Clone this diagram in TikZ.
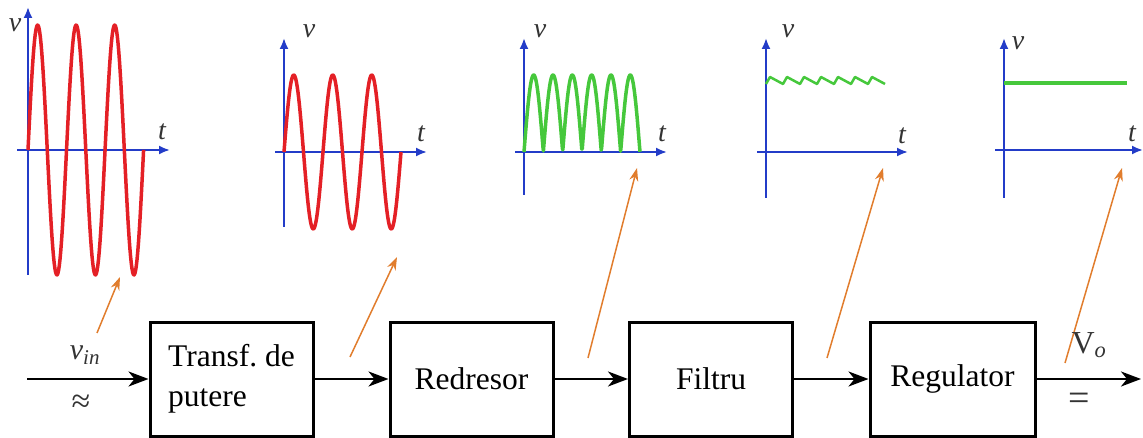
\documentclass[tikz,border=0pt]{standalone}
\usepackage{fontspec}
\setmainfont{Liberation Serif}
\usetikzlibrary{arrows.meta}
\usetikzlibrary{positioning}
\definecolor{sigred}{RGB}{228,32,38}
\definecolor{sigreen}{RGB}{70,200,60}
\definecolor{axisblue}{RGB}{35,60,200}
\definecolor{arrorange}{RGB}{225,125,45}

\begin{document}
\begin{tikzpicture}[x=1pt,y=-1pt,
  block/.style={draw, line width=3pt, minimum width=163pt, minimum height=114pt, align=left, font=\fontsize{31.5}{40}\selectfont},
  flow/.style={line width=2.5pt, -{Stealth[length=20pt,width=15pt,inset=6pt]}},
  axis/.style={axisblue, line width=2pt, -{Latex[length=11pt,width=9pt]}},
  pointer/.style={arrorange, line width=1.5pt, -{Stealth[length=13pt,width=9pt]}},
  wave/.style={line width=3.5pt, line join=round},
  lbl/.style={text=black!80, font=\fontsize{28}{28}\selectfont\itshape}]
\useasboundingbox (0,0) rectangle (1143,438);

\draw[axis] (17,150) -- (170,150);
\draw[axis] (28,275) -- (28,7);
\draw[axis] (275,152) -- (427,152);
\draw[axis] (284,227) -- (284,38);
\draw[axis] (515,152) -- (667,152);
\draw[axis] (524,195) -- (524,38);
\draw[axis] (757,152) -- (908,152);
\draw[axis] (766,198) -- (766,38);
\draw[axis] (995,150) -- (1143,150);
\draw[axis] (1004,198) -- (1004,38);

\draw[wave, sigred] plot[domain=0:115.6, samples=160] ({28+\x}, {150-125*sin(\x/38.53*360)});
\draw[wave, sigred] plot[domain=0:117, samples=160] ({284+\x}, {152-77*sin(\x/39*360)});
\draw[wave, sigreen] plot[domain=0:116, samples=240] ({524+\x}, {152-77*abs(sin(\x/19.33*180))});
\draw[sigreen, line width=2.5pt, line join=round] (766,84) \foreach \i in {1,...,7} { -- ++(4,-7) -- ++(13,7) };
\draw[wave, sigreen] (1004,83) -- (1127,83);

\node[lbl] (v1) at (15,25) {v};
\node[lbl] (t1) at (162,132) {t};
\node[lbl] (v2) at (309,31) {v};
\node[lbl] (t2) at (421,134) {t};
\node[lbl] (v3) at (540,31) {v};
\node[lbl] (t3) at (662,134) {t};
\node[lbl] (v4) at (788,31) {v};
\node[lbl] (t4) at (902,136) {t};
\node[lbl] (v5) at (1018,43) {v};
\node[lbl] (t5) at (1132,134) {t};

\node[block] (tr) at (231.5,379) {Transf.\ de\\putere};
\node[block] (rd) at (471.5,379) {Redresor};
\node[block] (fl) at (711,379) {Filtru};
\node[block, minimum width=165pt] (rg) at (952.5,379) {Regulator};
\coordinate (in) at (27,379);
\coordinate (out) at (1141,379);

\draw[flow] (in) -- (tr);
\draw[flow] (tr) -- (rd);
\draw[flow] (rd) -- (fl);
\draw[flow] (fl) -- (rg);
\draw[flow] (rg) -- (out);

\coordinate (a1) at (97,333);
\coordinate (b1) at (120,277);
\coordinate (a2) at (350,357);
\coordinate (b2) at (397,257);
\coordinate (a3) at (588,358);
\coordinate (b3) at (637,168);
\coordinate (a4) at (827,358);
\coordinate (b4) at (883,168);
\coordinate (a5) at (1065,363);
\coordinate (b5) at (1122,168);
\foreach \i in {1,...,5}
  \draw[pointer] (a\i) -- (b\i);

\node[text=black!80, font=\fontsize{30}{30}\selectfont] (vin) at (85,355) {\textit{v}\textsubscript{\textit{in}}};
\node[text=black!80, font=\fontsize{34}{34}\selectfont] (ac) at (81,404) {≈};
\node[text=black!80, font=\fontsize{32}{32}\selectfont] (vo) at (1089,345) {V\textsubscript{\textit{o}}};
\node[text=black!80, font=\fontsize{38}{38}\selectfont] (dc) at (1079,402) {=};
\end{tikzpicture}
\end{document}
